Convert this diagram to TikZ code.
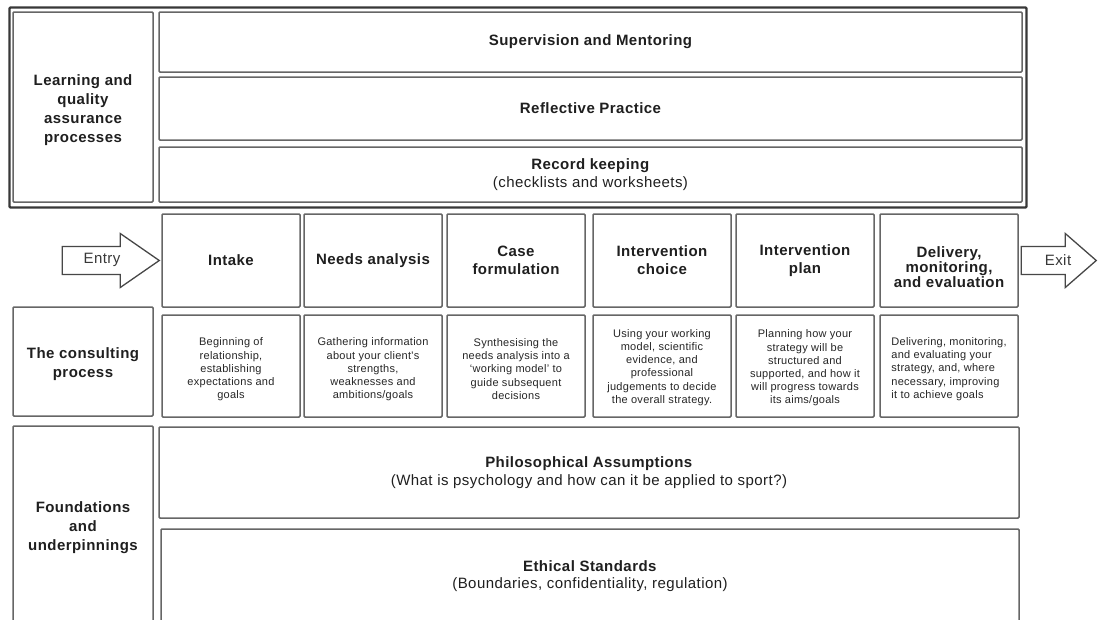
\documentclass[tikz,border=0pt]{standalone}
\usepackage{fontspec}
\setmainfont{Liberation Sans}
\newfontfamily\bigf[LetterSpace=3]{Liberation Sans}
\newfontfamily\smallf[LetterSpace=2.5]{Liberation Sans}
\begin{document}
\begin{tikzpicture}[x=1pt,y=-1pt,
  box/.style={draw=black!60, line width=1.5pt, rounded corners=1pt, fill=white, inner sep=0pt},
  hd/.style={font=\bigf\bfseries\fontsize{15}{18}\selectfont, text=black!88, align=center},
  lbl/.style={font=\bigf\bfseries\fontsize{15}{19}\selectfont, text=black!88, align=center},
  bigtxt/.style={font=\bigf\fontsize{15}{17.5}\selectfont, text=black!88, align=center},
  desc/.style={font=\smallf\fontsize{11}{13.2}\selectfont, text=black!85, align=center},
  arrowshape/.style={draw=black!72, line width=1.3pt, fill=white, line join=miter}
]
\useasboundingbox (0,0) rectangle (1099,619);
\clip (0,0) rectangle (1099,619);
\fill[white] (0,0) rectangle (1099,619);

% outer frame of the learning block
\draw[black!78, line width=2.2pt, rounded corners=1pt] (9.5,7.5) rectangle (1026.5,207.5);

% learning and quality assurance
\node[box, minimum width=140pt, minimum height=190pt] (lqa) at (83,107) {};
\node[lbl] (lqat) at ([yshift=-3pt]lqa.center) {Learning and\\quality\\assurance\\processes};
\node[box, hd, minimum width=863pt, minimum height=60pt] (sup) at (590.5,42) {Supervision and Mentoring};
\node[box, hd, minimum width=863pt, minimum height=63pt] (ref) at (590.5,108.5) {Reflective Practice};
\node[box, bigtxt, minimum width=863pt, minimum height=55pt] (rec) at (590.5,174.5) {\textbf{Record keeping}\\(checklists and worksheets)};

% consulting process steps
\node[box, hd, minimum width=138pt, minimum height=93pt] (intake) at (231,260.5) {Intake};
\node[box, hd, minimum width=138pt, minimum height=93pt] (needs) at (373,260.5) {Needs analysis};
\node[box, hd, minimum width=138pt, minimum height=93pt] (casef) at (516,260.5) {Case\\formulation};
\node[box, hd, minimum width=138pt, minimum height=93pt] (choice) at (662,260.5) {Intervention\\choice};
\node[box, hd, minimum width=138pt, minimum height=93pt] (plan) at (805,260.5) {Intervention\\plan};
\node[box, minimum width=138pt, minimum height=93pt] (deliv) at (949,260.5) {};
\node[hd, font=\bigf\bfseries\fontsize{15}{15}\selectfont] (delivtxt) at ([yshift=-6.5pt]deliv.center) {Delivery,\\monitoring,\\and evaluation};

% descriptions
\node[box, minimum width=140pt, minimum height=109pt] (cons) at (83,361.5) {};
\node[lbl] (const) at ([yshift=-3pt]cons.center) {The consulting\\process};
\node[box, minimum width=138pt, minimum height=102pt] (d1) at (231,366) {};
\node[box, minimum width=138pt, minimum height=102pt] (d2) at (373,366) {};
\node[box, minimum width=138pt, minimum height=102pt] (d3) at (516,366) {};
\node[box, minimum width=138pt, minimum height=102pt] (d4) at (662,366) {};
\node[box, minimum width=138pt, minimum height=102pt] (d5) at (805,366) {};
\node[box, minimum width=138pt, minimum height=102pt] (d6) at (949,366) {};
\node[desc] (d1t) at ([yshift=-3.5pt]d1.center) {Beginning of\\relationship,\\establishing\\expectations and\\goals};
\node[desc] (d2t) at ([yshift=-3.5pt]d2.center) {Gathering information\\about your client's\\strengths,\\weaknesses and\\ambitions/goals};
\node[desc] (d3t) at ([yshift=-3pt]d3.center) {Synthesising the\\needs analysis into a\\‘working model’ to\\guide subsequent\\decisions};
\node[desc] (d4t) at ([yshift=-1.5pt]d4.center) {Using your working\\model, scientific\\evidence, and\\professional\\judgements to decide\\the overall strategy.};
\node[desc] (d5t) at ([yshift=-2pt]d5.center) {Planning how your\\strategy will be\\structured and\\supported, and how it\\will progress towards\\its aims/goals};
\node[desc, align=left] (d6t) at ([yshift=-3pt]d6.center) {Delivering, monitoring,\\and evaluating your\\strategy, and, where\\necessary, improving\\it to achieve goals};

% entry and exit arrows
\coordinate (entrytip) at ([xshift=-2pt]intake.west);
\draw[arrowshape] (entrytip) -- ++(-39,-27) -- ++(0,13) -- ++(-58,0) -- ++(0,28) -- ++(58,0) -- ++(0,13) -- cycle;
\node[bigtxt, text=black!78] (entry) at (102,260) {Entry};
\coordinate (exitbase) at ([xshift=2.5pt]deliv.east);
\draw[arrowshape] (exitbase) ++(0,-14) -- ++(44,0) -- ++(0,-13) -- ++(31,27) -- ++(-31,27) -- ++(0,-13) -- ++(-44,0) -- cycle;
\node[bigtxt, text=black!78] (exit) at (1058,260) {Exit};

% foundations
\node[box, minimum width=140pt, minimum height=198pt] (found) at (83,525) {};
\node[lbl] (foundt) at ([yshift=-2.5pt]found.center) {Foundations\\and\\underpinnings};
\node[box, bigtxt, minimum width=860pt, minimum height=91pt] (phil) at (589,472.5) {\textbf{Philosophical Assumptions}\\(What is psychology and how can it be applied to sport?)};
\node[box, bigtxt, minimum width=858pt, minimum height=94pt] (eth) at (590,576) {\textbf{Ethical Standards}\\(Boundaries, confidentiality, regulation)};
\end{tikzpicture}
\end{document}
